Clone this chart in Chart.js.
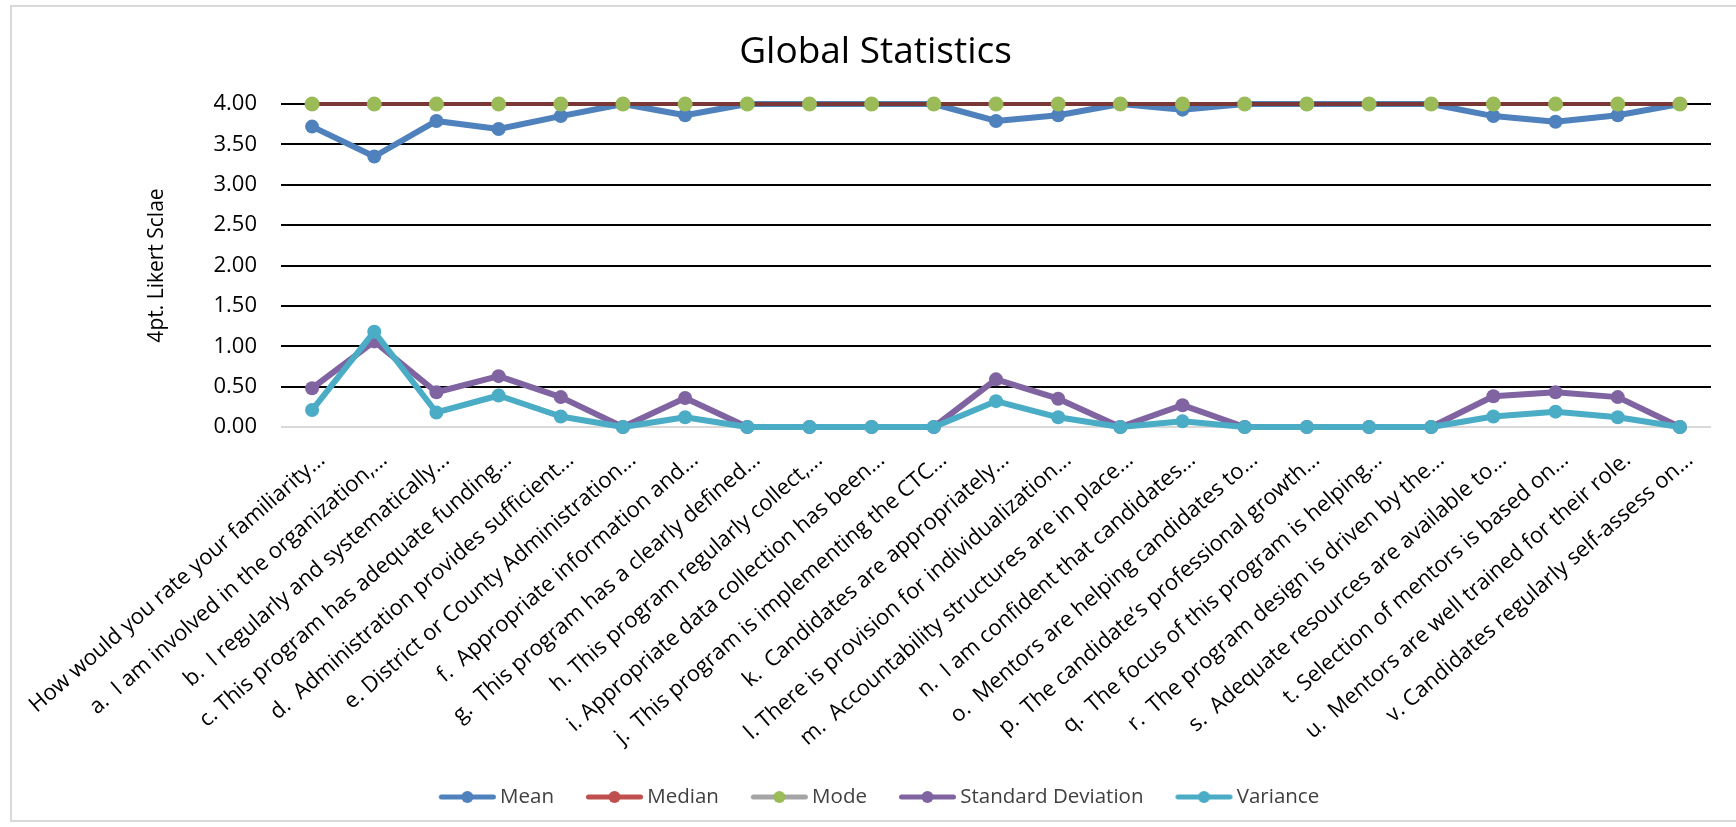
<!DOCTYPE html>
<html>
<head>
<meta charset="utf-8">
<title>Global Statistics</title>
<script src="https://cdn.jsdelivr.net/npm/chart.js@4.4.0/dist/chart.umd.min.js"></script>
<style>
  html, body { margin: 0; padding: 0; background: #fff; }
  #wrap { position: relative; width: 1736px; height: 827px; overflow: hidden; }
  #frame { position: absolute; left: 10px; top: 5px; width: 1740px; height: 817px; border: 2px solid #d9d9d9; box-sizing: border-box; }
  canvas { position: absolute; left: 0; top: 0; }
</style>
</head>
<body>
<div id="wrap">
  <div id="frame"></div>
  <canvas id="statsChart" width="1736" height="827"></canvas>
</div>
<script>
// questions on the x axis
const categories = [
    'How would you rate your familiarity...',
    'a.  I am involved in the organization,...',
    'b.  I regularly and systematically...',
    'c. This program has adequate funding...',
    'd.  Administration provides sufficient...',
    'e. District or County Administration...',
    'f.  Appropriate information and...',
    'g.  This program has a clearly defined...',
    'h. This program regularly collect,...',
    'i. Appropriate data collection has been...',
    'j.  This program is implementing the CTC...',
    'k.  Candidates are appropriately...',
    'l. There is provision for individualization...',
    'm.  Accountability structures are in place...',
    'n.  I am confident that candidates...',
    'o.  Mentors are helping candidates to...',
    'p.  The candidate\u2019s professional growth...',
    'q.  The focus of this program is helping...',
    'r.  The program design is driven by the...',
    's.  Adequate resources are available to...',
    't. Selection of mentors is based on...',
    'u.  Mentors are well trained for their role.',
    'v. Candidates regularly self-assess on...'
];

const meanVals   = [3.72, 3.35, 3.79, 3.69, 3.85, 4.00, 3.86, 4.00, 4.00, 4.00, 4.00, 3.79, 3.86, 4.00, 3.93, 4.00, 4.00, 4.00, 4.00, 3.85, 3.78, 3.86, 4.00];
const medianVals = [4, 4, 4, 4, 4, 4, 4, 4, 4, 4, 4, 4, 4, 4, 4, 4, 4, 4, 4, 4, 4, 4, 4];
const modeVals   = [4, 4, 4, 4, 4, 4, 4, 4, 4, 4, 4, 4, 4, 4, 4, 4, 4, 4, 4, 4, 4, 4, 4];
const sdVals     = [0.48, 1.06, 0.43, 0.63, 0.37, 0.00, 0.36, 0.00, 0.00, 0.00, 0.00, 0.59, 0.35, 0.00, 0.27, 0.00, 0.00, 0.00, 0.00, 0.38, 0.43, 0.37, 0.00];
const varVals    = [0.21, 1.18, 0.18, 0.39, 0.13, 0.00, 0.12, 0.00, 0.00, 0.00, 0.00, 0.32, 0.12, 0.00, 0.07, 0.00, 0.00, 0.00, 0.00, 0.13, 0.19, 0.12, 0.00];

const yTicks = [0, 0.5, 1, 1.5, 2, 2.5, 3, 3.5, 4];

Chart.defaults.font.family = "'Open Sans', sans-serif";

// line-with-dot legend icons, like excel. the legend centers the image in its box,
// so the canvas is wide and the icon sits at its right end, close to the text
function makeIcon(lineColor, dotColor) {
    const c = document.createElement('canvas');
    c.width = 92;
    c.height = 16;
    const g = c.getContext('2d');
    g.strokeStyle = lineColor;
    g.lineWidth = 5;
    g.lineCap = 'round';
    g.beginPath();
    g.moveTo(35.5, 8);
    g.lineTo(87.5, 8);
    g.stroke();
    g.fillStyle = dotColor;
    g.beginPath();
    g.arc(61.5, 8, 6, 0, Math.PI * 2);
    g.fill();
    return c;
}

const icons = [
    makeIcon('#4F81BD', '#4F81BD'),
    makeIcon('#C0504D', '#C0504D'),
    makeIcon('#A5A5A5', '#9BBB59'),
    makeIcon('#8064A2', '#8064A2'),
    makeIcon('#4BACC6', '#4BACC6')
];

// nudge the legend a bit left, the excel one is not quite centred
const legendNudge = {
    id: 'legendNudge',
    afterLayout(chart) {
        if (chart.legend) {
            chart.legend.left -= 9;
            chart.legend.right -= 9;
        }
    }
};

function lineSet(label, data, color, order) {
    return {
        label: label,
        data: data,
        borderColor: color,
        backgroundColor: color,
        borderWidth: 6,
        borderJoinStyle: 'round',
        borderCapStyle: 'round',
        pointRadius: 7,
        pointBorderWidth: 0,
        pointBackgroundColor: color,
        tension: 0,
        clip: false,
        order: order
    };
}

const ctx = document.getElementById('statsChart').getContext('2d');
const statsChart = new Chart(ctx, {
    type: 'line',
    data: {
        labels: categories,
        datasets: [
            lineSet('Mean', meanVals, '#4F81BD', 5),
            {
                label: 'Median',
                data: medianVals,
                borderColor: '#7B3636',
                backgroundColor: '#C0504D',
                borderWidth: 4,
                pointRadius: 0,
                clip: false,
                order: 2
            },
            {
                label: 'Mode',
                data: modeVals,
                showLine: false,
                borderColor: '#A5A5A5',
                backgroundColor: '#9BBB59',
                pointRadius: 7.5,
                pointBorderWidth: 0,
                pointBackgroundColor: '#9BBB59',
                clip: false,
                order: 1
            },
            lineSet('Standard Deviation', sdVals, '#8064A2', 4),
            lineSet('Variance', varVals, '#4BACC6', 3)
        ]
    },
    plugins: [legendNudge],
    options: {
        responsive: false,
        animation: false,
        events: [],
        layout: {
            padding: { left: 40, right: 25, top: 0, bottom: 9.75 }
        },
        plugins: {
            title: {
                display: true,
                text: 'Global Statistics',
                color: '#000',
                font: { size: 37, weight: 'normal' },
                padding: { top: 30, bottom: 29.6 }
            },
            legend: {
                position: 'bottom',
                labels: {
                    usePointStyle: true,
                    pointStyleWidth: 76,
                    padding: 7,
                    color: '#404040',
                    font: { size: 20.5 },
                    generateLabels: (chart) => chart.data.datasets.map((ds, i) => ({
                        text: ds.label,
                        pointStyle: icons[i],
                        fillStyle: 'transparent',
                        strokeStyle: 'transparent',
                        lineWidth: 0,
                        hidden: false,
                        datasetIndex: i,
                        fontColor: '#404040'
                    }))
                }
            },
            tooltip: { enabled: false }
        },
        scales: {
            x: {
                offset: true,
                grid: { display: false },
                border: { display: false },
                ticks: {
                    autoSkip: false,
                    maxRotation: 41,
                    minRotation: 41,
                    padding: 12,
                    labelOffset: 10,
                    color: '#000',
                    font: { size: 22 }
                },
                afterFit: (scale) => { scale.height = 352.75; }
            },
            y: {
                min: 0,
                max: 4,
                afterBuildTicks: (scale) => { scale.ticks = yTicks.map(v => ({ value: v })); },
                ticks: {
                    padding: 24,
                    color: '#000',
                    font: { size: 22 },
                    callback: (v) => Number(v).toFixed(2)
                },
                grid: {
                    drawTicks: false,
                    lineWidth: 2,
                    color: (c) => (c.tick && c.tick.value === 0) ? '#d9d9d9' : '#000'
                },
                border: { display: false },
                title: {
                    display: true,
                    text: '4pt. Likert Sclae',
                    color: '#000',
                    font: { size: 21 },
                    padding: { top: 104, bottom: 0 }
                },
                afterFit: (scale) => { scale.width = 241; }
            }
        }
    }
});
</script>
</body>
</html>
